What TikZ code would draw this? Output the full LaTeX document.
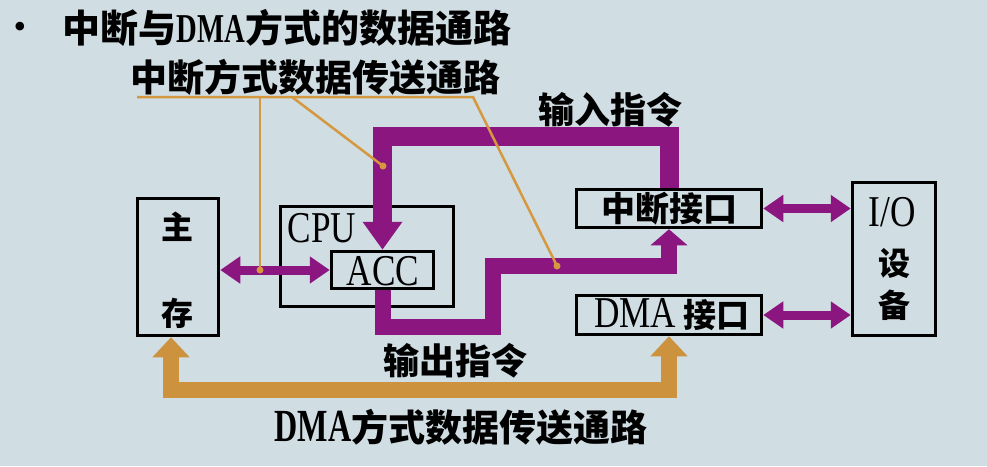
\documentclass[tikz,border=0pt]{standalone}
\usepackage{fontspec}
\setmainfont{Liberation Serif}
\newfontfamily\cjk{Noto Sans CJK SC}
\newfontfamily\latn[FakeStretch=0.8]{Liberation Serif}
\newfontfamily\latnc[FakeStretch=0.7]{Liberation Serif}
\usetikzlibrary{arrows.meta}
\definecolor{bgblue}{RGB}{208,221,227}
\definecolor{buspurple}{RGB}{140,22,128}
\definecolor{dmaorange}{RGB}{204,146,62}
\definecolor{annotorange}{RGB}{214,152,62}

\begin{document}
\begin{tikzpicture}[x=1pt,y=-1pt]
\tikzstyle{box}=[draw=black,line width=3.5pt,inner sep=0pt]
\tikzstyle{cjktext}=[font=\fontsize{32}{32}\selectfont\cjk\bfseries,inner sep=0pt]
\tikzstyle{lattext}=[font=\fontsize{44}{44}\selectfont\latn,inner sep=0pt]
\tikzstyle{pathtext}=[font=\fontsize{36}{36}\selectfont\cjk\bfseries,inner sep=0pt]
\tikzstyle{bus}=[draw=buspurple,line width=19pt]
\tikzstyle{link}=[draw=buspurple,line width=9pt,arrows={Triangle[length=20pt,width=26pt]-Triangle[length=20pt,width=26pt]}]
\tikzstyle{dma}=[draw=dmaorange,line width=16pt,arrows={Triangle[length=20pt,width=36pt]-Triangle[length=20pt,width=36pt]}]
\tikzstyle{annot}=[draw=annotorange,line width=2.5pt]
\path[use as bounding box,fill=bgblue] (0,0) rectangle (987,466);

% boxes
\node [box,minimum width=81pt,minimum height=137pt] (mem) at(178,267) {};
\node [box,minimum width=173pt,minimum height=100pt] (cpu) at(367,256.5) {};
\node [box,minimum width=102pt,minimum height=37pt] (acc) at(382.5,270) {};
\node [box,minimum width=185pt,minimum height=38pt] (intf) at(669,208.5) {};
\node [box,minimum width=185pt,minimum height=39pt] (dmaf) at(669,315) {};
\node [box,minimum width=83pt,minimum height=153pt] (io) at(894,259) {};

% data paths
\coordinate (o1) at(493,327);
\coordinate (o2) at(493,266);
\draw [bus,arrows={-Triangle[length=28pt,width=38pt]}] (intf.north) -- ++(0,-51) -| (acc.north);
\draw [bus,line width=16pt,arrows={-Triangle[length=16pt,width=36pt]}] (acc.south) |- (o1) -- (o2) -| (intf.south);
\draw [link] (acc.west -| mem.east) -- (acc.west);
\draw [link] (intf.east) -- (intf.east -| io.west);
\draw [link] (dmaf.east) -- (dmaf.east -| io.west);
\draw [dma] ([xshift=-7pt]mem.south) -- ++(0,53) -| (dmaf.south);

% pointer lines
\coordinate (ul) at(137,97);
\coordinate (ur) at(473,97);
\coordinate (uv) at(260,97);
\coordinate (ud) at(292,97);
\coordinate (p1) at(260,270);
\coordinate (p2) at(383,166);
\coordinate (p3) at(557,266);
\draw [annot] (ul) -- (ur) -- (p3);
\draw [annot] (uv) -- (p1);
\draw [annot] (ud) -- (p2);
\fill [annotorange] (p1) circle (3.5) (p2) circle (3.5) (p3) circle (3.5);

% texts
\node [lattext] (cputxt) at(322,228) {CPU};
\node [lattext] (acctxt) at(383,271) {ACC};
\node [cjktext] (memtxt1) at(177,227) {主};
\node [cjktext] (memtxt2) at(177,313) {存};
\node [cjktext,font=\fontsize{34}{34}\selectfont\cjk\bfseries] (intftxt) at(669,209) {中断接口};
\node [cjktext,font=\fontsize{33}{33}\selectfont\cjk\bfseries] (dmatxt) at(672,315) {{\latn\mdseries\fontsize{44}{44}\selectfont DMA} 接口};
\node [lattext] (iotxt1) at(892,212) {I/O};
\node [cjktext] (iotxt2) at(894,263) {设};
\node [cjktext] (iotxt3) at(894,305) {备};
\node [inner sep=0pt,font=\fontsize{36}{36}\selectfont] (bullet) at(20,30) {•};
\node [pathtext,font=\fontsize{38}{38}\selectfont\cjk\bfseries] (title) at(287,28) {中断与{\latnc\bfseries\fontsize{41}{41}\selectfont DMA}方式的数据通路};
\node [pathtext,font=\fontsize{37}{37}\selectfont\cjk\bfseries] (inttitle) at(315,77) {中断方式数据传送通路};
\node [pathtext] (intxt) at(610,110) {输入指令};
\node [pathtext] (outtxt) at(455,361) {输出指令};
\node [pathtext,font=\fontsize{37}{37}\selectfont\cjk\bfseries] (dmatitle) at(461,427) {{\latnc\bfseries\fontsize{46}{46}\selectfont DMA}方式数据传送通路};
\end{tikzpicture}
\end{document}
